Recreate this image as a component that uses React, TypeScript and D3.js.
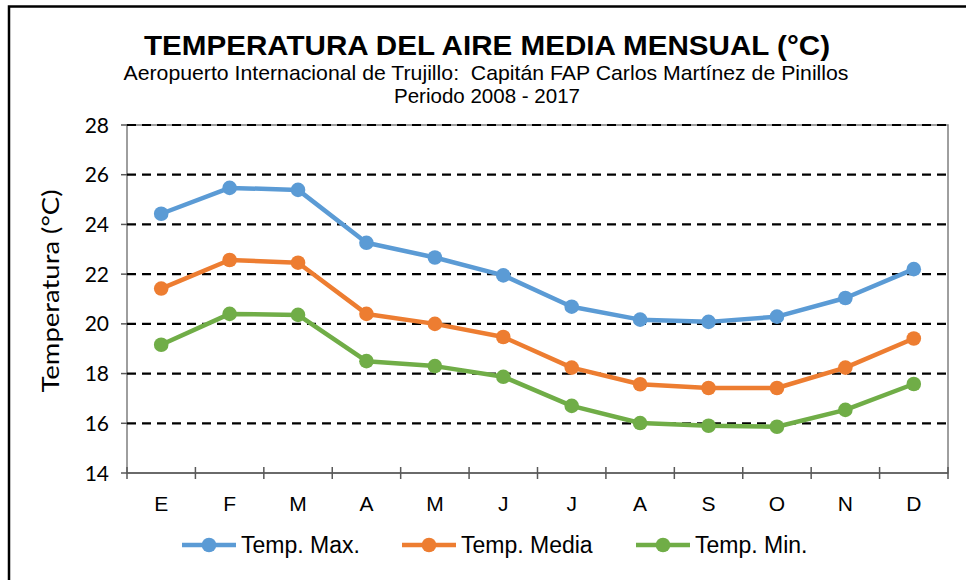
import React, { useEffect, useRef } from "react";
import * as d3 from "d3";

const months = ["E", "F", "M", "A", "M", "J", "J", "A", "S", "O", "N", "D"];
const tempMax = [24.43, 25.47, 25.39, 23.26, 22.67, 21.95, 20.69, 20.17, 20.08, 20.29, 21.04, 22.2];
const tempMedia = [21.42, 22.57, 22.46, 20.4, 20.0, 19.47, 18.24, 17.57, 17.42, 17.42, 18.24, 19.41];
const tempMin = [19.16, 20.4, 20.36, 18.5, 18.3, 17.87, 16.7, 16.01, 15.9, 15.86, 16.54, 17.58];
const yTicks = [14, 16, 18, 20, 22, 24, 26, 28];

const seriesNames = ["Temp. Max.", "Temp. Media", "Temp. Min."];
const seriesColors = ["#5B9BD5", "#ED7D31", "#70AD47"];

export default function App() {
    const ref = useRef(null);

    const width = 966;
    const height = 580;
    const margin = { top: 125, right: 18, bottom: 107, left: 127 };
    const font = "'Liberation Sans', Arial, sans-serif";

    useEffect(() => {
        drawChart();
    }, []);

    function drawChart() {
        d3.select(ref.current).select("svg").remove();

        const svg = d3
            .select(ref.current)
            .append("svg")
            .attr("width", width)
            .attr("height", height)
            .style("display", "block")
            .style("background", "#fff");

        const innerW = width - margin.left - margin.right;
        const innerH = height - margin.top - margin.bottom;

        // outer frame (only top and left visible)
        svg.append("path")
            .attr("d", `M9,${height} V6.5 H${width}`)
            .attr("fill", "none")
            .attr("stroke", "#000")
            .attr("stroke-width", 2.5);

        const x = d3.scaleBand().domain(d3.range(months.length)).range([0, innerW]);
        const y = d3.scaleLinear().domain([14, 28]).range([innerH, 0]);

        const g = svg.append("g").attr("transform", `translate(${margin.left}, ${margin.top})`);

        // plot area border
        g.append("rect")
            .attr("width", innerW)
            .attr("height", innerH)
            .attr("fill", "none")
            .attr("stroke", "#7f7f7f")
            .attr("stroke-width", 1.5);

        // dashed gridlines
        g.selectAll(".grid")
            .data(yTicks.filter((t) => t > 14))
            .enter()
            .append("line")
            .attr("x1", 0)
            .attr("x2", innerW)
            .attr("y1", (d) => y(d))
            .attr("y2", (d) => y(d))
            .attr("stroke", "#000")
            .attr("stroke-width", 2.2)
            .attr("stroke-dasharray", "9,6");

        g.selectAll(".ytick")
            .data(yTicks)
            .enter()
            .append("line")
            .attr("x1", -6)
            .attr("x2", 0)
            .attr("y1", (d) => y(d))
            .attr("y2", (d) => y(d))
            .attr("stroke", "#595959")
            .attr("stroke-width", 1.5);

        g.selectAll(".ylabel")
            .data(yTicks)
            .enter()
            .append("text")
            .attr("x", -18)
            .attr("y", (d) => y(d))
            .attr("dy", "0.36em")
            .attr("text-anchor", "end")
            .style("font-family", "Lato, 'Open Sans', sans-serif")
            .style("font-size", "21px")
            .style("fill", "#000")
            .text((d) => d);

        // x axis line and band ticks
        g.append("line")
            .attr("x1", 0)
            .attr("x2", innerW)
            .attr("y1", innerH)
            .attr("y2", innerH)
            .attr("stroke", "#595959")
            .attr("stroke-width", 1.5);

        g.selectAll(".xtick")
            .data(d3.range(months.length + 1))
            .enter()
            .append("line")
            .attr("x1", (i) => (i < months.length ? x(i) : innerW))
            .attr("x2", (i) => (i < months.length ? x(i) : innerW))
            .attr("y1", innerH - 6)
            .attr("y2", innerH + 6)
            .attr("stroke", "#595959")
            .attr("stroke-width", 1.5);

        g.selectAll(".xlabel")
            .data(months)
            .enter()
            .append("text")
            .attr("x", (_, i) => x(i) + x.bandwidth() / 2)
            .attr("y", innerH + 38)
            .attr("text-anchor", "middle")
            .style("font-family", font)
            .style("font-size", "21px")
            .text((d) => d);

        // y axis title
        svg.append("text")
            .attr("transform", `translate(59, ${margin.top + innerH / 2 - 8}) rotate(-90)`)
            .attr("text-anchor", "middle")
            .style("font-family", "Lato, 'Open Sans', sans-serif")
            .style("font-size", "23px")
            .attr("textLength", 203)
            .attr("lengthAdjust", "spacingAndGlyphs")
            .text("Temperatura (°C)");

        // lines
        const allSeries = [tempMax, tempMedia, tempMin];
        const line = d3
            .line()
            .x((_, i) => x(i) + x.bandwidth() / 2)
            .y((d) => y(d));

        allSeries.forEach((values, s) => {
            g.append("path")
                .datum(values)
                .attr("d", line)
                .attr("fill", "none")
                .attr("stroke", seriesColors[s])
                .attr("stroke-width", 4.5)
                .attr("stroke-linejoin", "round");

            g.selectAll(".dot" + s)
                .data(values)
                .enter()
                .append("circle")
                .attr("cx", (_, i) => x(i) + x.bandwidth() / 2)
                .attr("cy", (d) => y(d))
                .attr("r", 7.3)
                .attr("fill", seriesColors[s]);
        });

        // titles
        svg.append("text")
            .attr("x", 487)
            .attr("y", 55)
            .attr("text-anchor", "middle")
            .style("font-family", font)
            .style("font-weight", "bold")
            .style("font-size", "28px")
            .attr("textLength", 686)
            .attr("lengthAdjust", "spacingAndGlyphs")
            .text("TEMPERATURA DEL AIRE MEDIA MENSUAL (°C)");

        svg.append("text")
            .attr("x", 486)
            .attr("y", 80)
            .attr("text-anchor", "middle")
            .style("font-family", font)
            .style("font-size", "21px")
            .attr("textLength", 725)
            .attr("lengthAdjust", "spacingAndGlyphs")
            .style("white-space", "pre")
            .text("Aeropuerto Internacional de Trujillo:  Capitán FAP Carlos Martínez de Pinillos");

        svg.append("text")
            .attr("x", 487)
            .attr("y", 103)
            .attr("text-anchor", "middle")
            .style("font-family", font)
            .style("font-size", "21px")
            .attr("textLength", 186)
            .attr("lengthAdjust", "spacingAndGlyphs")
            .text("Periodo 2008 - 2017");

        // legend
        const legendX = [182, 402, 636];
        const legend = svg
            .selectAll(".legend")
            .data(seriesNames)
            .enter()
            .append("g")
            .attr("transform", (_, i) => `translate(${legendX[i]}, 545)`);

        legend
            .append("line")
            .attr("x1", 0)
            .attr("x2", 54)
            .attr("stroke", (_, i) => seriesColors[i])
            .attr("stroke-width", 4.5);

        legend
            .append("circle")
            .attr("cx", 27)
            .attr("r", 7.3)
            .attr("fill", (_, i) => seriesColors[i]);

        legend
            .append("text")
            .attr("x", 59)
            .attr("dy", "0.36em")
            .style("font-family", font)
            .style("font-size", "23px")
            .text((d) => d);
    }

    return (
        <div ref={ref} style={{ position: "absolute", left: 0, top: 0 }}></div>
    );
}
